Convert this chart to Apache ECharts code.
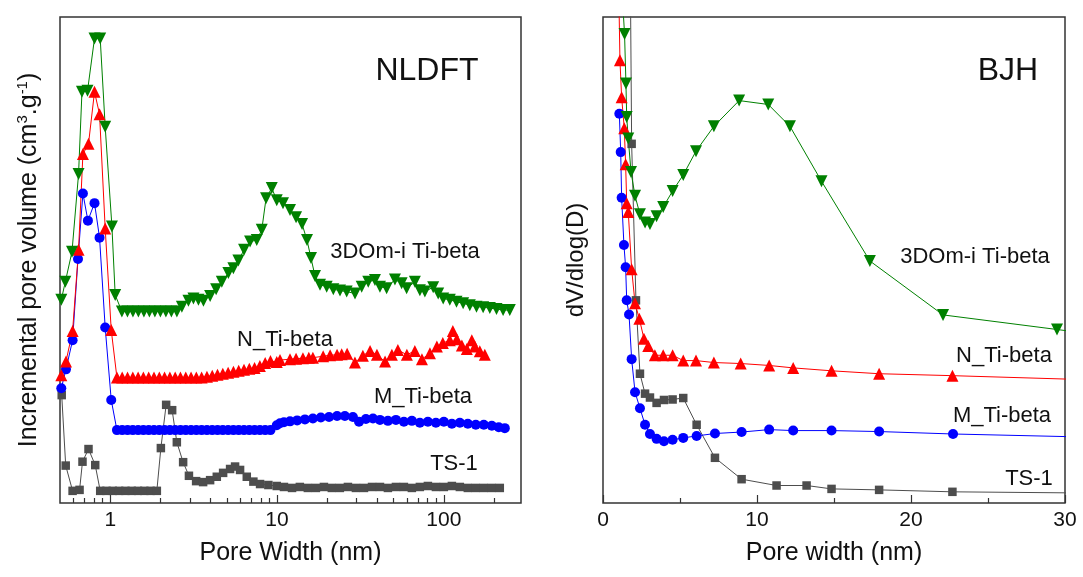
<!DOCTYPE html>
<html>
<head>
<meta charset="utf-8">
<title>Pore size distribution</title>
<script src="https://cdn.jsdelivr.net/npm/echarts@6.0.0/dist/echarts.min.js"></script>
<style>
  html, body { margin: 0; padding: 0; background: #fff; }
  #chart { width: 1083px; height: 577px; }
</style>
</head>
<body>
<div id="chart"></div>
<script>
const FONT = '"Liberation Sans", Arial, sans-serif';
const GREEN = '#008000', RED = '#ff0000', BLUE = '#0000ff', GREY = '#4d4d4d';
const AXIS = '#333';

// ---- left panel (NLDFT), pore width in nm, volume in arbitrary units
const dftMajorTicks = [1, 10, 100];
const dftMinorTicks = [0.6, 0.7, 0.8, 0.9, 2, 3, 4, 5, 6, 7, 8, 9, 20, 30, 40, 50, 60, 70, 80, 90, 200];

const dftTs1X = [0.512, 0.541, 0.595, 0.655, 0.682, 0.741, 0.813, 0.871, 0.950, 1.036, 1.131, 1.233, 1.345, 1.467, 1.600, 1.745, 1.903,
  2.012, 2.164, 2.351, 2.508, 2.736, 2.964, 3.273, 3.605, 3.970, 4.354, 4.751, 5.231, 5.604, 6.004, 6.586, 7.214, 7.912, 8.870, 9.96,
  11.0, 12.3, 13.7, 15.3, 17.1, 19.1, 21.3, 23.8, 26.6, 29.7, 33.2, 37.1, 41.4, 46.2, 51.6, 57.6, 64.3, 71.8, 80.2, 89.6, 100,
  111.7, 124.7, 139.2, 155.4, 173.6, 193.8, 216.4];
const dftTs1Y = [22.2, 7.7, 2.5, 2.7, 8.5, 11.1, 7.8, 2.5, 2.5, 2.5, 2.5, 2.5, 2.5, 2.5, 2.5, 2.5, 2.5,
  11.3, 20.2, 19.1, 12.5, 8.4, 5.6, 4.5, 4.3, 4.7, 5.4, 6.2, 7.0, 7.5, 6.8, 5.4, 4.4, 3.9, 3.7, 3.5,
  3.3, 3.1, 3.3, 3.1, 3.1, 3.3, 3.1, 3.1, 3.3, 3.1, 3.1, 3.3, 3.3, 3.1, 3.3, 3.3, 3.1, 3.3, 3.5, 3.3, 3.3,
  3.5, 3.3, 3.1, 3.1, 3.1, 3.1, 3.1];

const dftMX = [0.509, 0.543, 0.595, 0.641, 0.686, 0.735, 0.805, 0.863, 0.933, 1.014,
  1.097, 1.180, 1.270, 1.366, 1.470, 1.581, 1.701, 1.830, 1.969, 2.118, 2.279, 2.451, 2.637, 2.837, 3.052,
  3.283, 3.532, 3.800, 4.088, 4.398, 4.731, 5.090, 5.476, 5.891, 6.338, 6.818, 7.335, 7.891, 8.489, 9.133,
  9.96, 10.42, 11.0, 11.96, 13.2, 14.7, 16.4, 18.3, 20.5, 22.9, 25.5, 28.5, 31.0, 34.1, 37.6, 41.4, 46.2,
  51.6, 57.6, 64.3, 71.8, 80.2, 89.6, 100, 111.7, 124.7, 139.2, 155.4, 173.6, 193.8, 213.4, 231.9];
const dftMY = [23.6, 27.5, 33.5, 50.2, 63.7, 58.1, 61.7, 54.6, 36.1, 21.2,
  15.0, 15.0, 15.0, 15.0, 15.0, 15.0, 15.0, 15.0, 15.0, 15.0, 15.0, 15.0, 15.0, 15.0, 15.0,
  15.0, 15.0, 15.0, 15.0, 15.0, 15.0, 15.0, 15.0, 15.0, 15.0, 15.0, 15.0, 15.0, 15.0, 15.0,
  16.0, 16.4, 16.6, 16.8, 17.0, 17.2, 17.4, 17.6, 17.7, 17.9, 17.9, 17.7, 16.7, 17.3, 17.4, 17.1, 16.9,
  17.1, 16.7, 16.9, 16.5, 16.7, 16.5, 16.7, 16.3, 16.5, 16.3, 16.1, 16.1, 15.9, 15.6, 15.4];

const dftNX = [0.509, 0.543, 0.595, 0.646, 0.686, 0.741, 0.805, 0.863, 0.933, 1.014,
  1.097, 1.180, 1.270, 1.366, 1.470, 1.581, 1.701, 1.830, 1.969, 2.118, 2.279, 2.451, 2.637, 2.837, 3.052,
  3.283, 3.532, 3.800, 4.088, 4.398, 4.731, 5.090, 5.476, 5.891, 6.338, 6.818, 7.335, 7.891, 8.489, 9.133,
  9.96, 10.42, 11.96, 13.0, 14.3, 15.5, 16.4, 18.9, 20.8, 22.9, 24.4, 26.3, 29.3, 32.7, 36.1, 39.7, 44.4, 48.8, 53.0,
  60.0, 67.0, 73.9, 82.5, 90.8, 98.6, 108.6, 113.2, 119.6, 128.2, 137.3, 147.1, 153.3, 164.3, 176.0];
const dftNY = [26.3, 29.1, 35.4, 52.1, 71.8, 73.9, 84.6, 80.0, 56.5, 35.6,
  25.8, 25.8, 25.8, 25.8, 25.8, 25.8, 25.8, 25.8, 25.8, 25.8, 25.8, 25.8, 25.8, 25.8, 25.8,
  25.8, 25.8, 26.0, 26.2, 26.4, 26.6, 26.8, 27.0, 27.2, 27.4, 27.6, 27.8, 28.2, 28.8, 29.2,
  29.0, 29.4, 29.6, 29.7, 29.8, 29.9, 29.9, 30.2, 30.4, 30.5, 30.6, 30.7, 28.9, 30.3, 31.3, 30.5, 29.1, 30.5, 31.5,
  30.5, 31.3, 29.6, 30.8, 32.2, 32.9, 33.5, 35.4, 33.7, 32.4, 31.7, 33.5, 32.2, 31.2, 30.5];

const dft3dX = [0.509, 0.538, 0.590, 0.646, 0.677, 0.731, 0.805, 0.871, 0.933, 1.024, 1.071,
  1.175, 1.268, 1.368, 1.475, 1.592, 1.717, 1.852, 1.998, 2.156, 2.326, 2.509,
  2.688, 2.944, 3.154, 3.379, 3.620, 3.970, 4.313, 4.665, 5.110, 5.475, 5.866, 6.345, 6.892, 7.559, 8.099, 8.594, 9.296, 9.96,
  10.86, 11.96, 13.0, 14.12, 15.12, 15.98, 16.89, 18.09,
  19.84, 21.74, 23.84, 26.15, 29.32, 32.16, 35.22, 38.63, 41.39, 45.39, 50.89, 55.82, 59.79, 67.03, 71.84, 76.95,
  86.29, 92.46, 99.04, 108.6, 119.1, 130.5, 143.1, 156.9, 171.9, 188.5, 206.8, 226.5, 248.4];
const dft3dY = [41.8, 45.5, 51.7, 67.7, 84.6, 84.8, 95.6, 95.6, 77.4, 56.9, 42.8,
  39.4, 39.4, 39.4, 39.4, 39.4, 39.4, 39.4, 39.4, 39.4, 39.4, 39.4,
  40.4, 41.6, 42.1, 41.8, 41.6, 42.6, 44.0, 45.5, 47.3, 48.3, 49.9, 52.1, 53.8, 54.1, 56.2, 62.7, 64.8, 62.3,
  61.7, 60.3, 58.8, 57.4, 54.1, 50.4, 46.7, 44.9,
  44.5, 44.0, 43.7, 43.5, 43.1, 44.5, 45.5, 45.9, 44.5, 44.2, 46.0, 45.2, 44.2, 45.5, 43.8, 43.5,
  44.4, 43.1, 42.1, 41.8, 41.4, 41.1, 40.7, 40.4, 40.3, 40.1, 39.9, 39.7, 39.7];

// ---- right panel (BJH), pore width in nm, dV/dlog(D) in arbitrary units
const bjhTs1X = [1.70, 1.86, 2.14, 2.40, 2.73, 3.05, 3.48, 3.96, 4.52, 5.21, 6.08, 7.27, 9.00, 11.27, 13.22, 14.84, 17.93, 22.69, 38.5];
const bjhTs1Y = [140, 73.9, 41.7, 26.6, 22.5, 21.7, 20.6, 21.2, 21.3, 21.6, 16.1, 9.3, 4.9, 3.6, 3.6, 2.9, 2.7, 2.3, 1.85];

const bjhMX = [1.06, 1.15, 1.21, 1.36, 1.47, 1.54, 1.69, 1.86, 2.08, 2.40, 2.73, 3.05, 3.48, 3.96, 4.52, 5.21, 6.08, 7.27, 9.00, 10.79, 12.35, 14.84, 17.93, 22.73, 38.5];
const bjhMY = [80.1, 72.2, 62.8, 53.1, 48.5, 41.7, 38.8, 29.6, 22.8, 19.5, 16.1, 14.2, 13.2, 12.7, 13.0, 13.4, 13.8, 14.3, 14.6, 15.1, 14.9, 14.9, 14.7, 14.2, 13.05];

const bjhNX = [1.00, 1.10, 1.21, 1.38, 1.47, 1.54, 1.64, 1.86, 2.08, 2.36, 2.66, 2.94, 3.37, 3.91, 4.52, 5.21, 6.04, 7.20, 8.94, 10.79, 12.35, 14.84, 17.93, 22.69, 38.5];
const bjhNY = [110, 91.1, 83.5, 77.1, 69.7, 61.7, 59.9, 48.1, 41.1, 37.9, 33.8, 32.3, 30.4, 30.4, 30.4, 29.3, 29.3, 28.9, 28.7, 28.3, 27.8, 27.2, 26.6, 26.2, 24.7];

const bjh3dX = [1.05, 1.40, 1.49, 1.54, 1.64, 1.82, 2.08, 2.40, 2.73, 3.05, 3.48, 3.91, 4.52, 5.21, 6.04, 7.20, 8.84, 10.73, 12.14, 14.19, 17.33, 22.08, 29.48, 38.5];
const bjh3dY = [115, 96.5, 86.3, 79.4, 75.0, 68.1, 63.2, 59.4, 57.7, 57.4, 59.0, 60.9, 64.2, 67.5, 72.4, 77.5, 82.8, 82.0, 77.5, 66.2, 49.8, 38.7, 35.7, 32.0];

const seriesNames = ['TS-1', 'M_Ti-beta', 'N_Ti-beta', '3DOm-i Ti-beta'];

function pairs(xs, ys) {
  return xs.map((x, i) => [x, ys[i]]);
}

function line(name, xs, ys, color, symbol, size, rotate, xi, yi) {
  return {
    name: name,
    type: 'line',
    xAxisIndex: xi,
    yAxisIndex: yi,
    data: pairs(xs, ys),
    symbol: symbol,
    symbolSize: size,
    symbolRotate: rotate,
    showSymbol: true,
    clip: true,
    itemStyle: { color: color },
    lineStyle: { color: color, width: 1 },
    emphasis: { disabled: true },
    z: 2
  };
}

function label(text, x, y, size) {
  return {
    type: 'text',
    x: x,
    y: y,
    style: {
      text: text,
      font: size + 'px ' + FONT,
      fill: '#111',
      textAlign: 'center',
      textVerticalAlign: 'middle',
      align: 'center',
      verticalAlign: 'middle'
    }
  };
}

const tickStyle = { color: AXIS, width: 1.2 };

const chart = echarts.init(document.getElementById('chart'), null, { renderer: 'canvas' });

chart.setOption({
  animation: false,
  backgroundColor: '#fff',
  textStyle: { fontFamily: FONT },
  grid: [
    { left: 60, top: 17, width: 461, height: 486, show: true, borderColor: AXIS, borderWidth: 1.5, backgroundColor: 'transparent' },
    { left: 603, top: 17, width: 462, height: 486, show: true, borderColor: AXIS, borderWidth: 1.5, backgroundColor: 'transparent' }
  ],
  xAxis: [
    {
      type: 'log', logBase: 10, gridIndex: 0, min: 0.5, max: 290, position: 'bottom',
      name: 'Pore Width (nm)', nameLocation: 'middle', nameGap: 38,
      nameTextStyle: { fontSize: 25, color: '#111', fontFamily: FONT },
      axisLine: { show: false },
      axisTick: { show: true, inside: true, length: 8, lineStyle: tickStyle, customValues: dftMajorTicks },
      axisLabel: { show: true, fontSize: 21, color: '#111', margin: 7, fontFamily: FONT, customValues: dftMajorTicks },
      splitLine: { show: false }
    },
    {
      type: 'log', logBase: 10, gridIndex: 0, min: 0.5, max: 290, position: 'bottom',
      axisLine: { show: false },
      axisTick: { show: true, inside: true, length: 5, lineStyle: tickStyle, customValues: dftMinorTicks },
      axisLabel: { show: false },
      splitLine: { show: false }
    },
    {
      type: 'value', gridIndex: 1, min: 0, max: 30, interval: 10, position: 'bottom',
      name: 'Pore width (nm)', nameLocation: 'middle', nameGap: 38,
      nameTextStyle: { fontSize: 25, color: '#111', fontFamily: FONT },
      axisLine: { show: false },
      axisTick: { show: true, inside: true, length: 8, lineStyle: tickStyle },
      minorTick: { show: true, splitNumber: 2, length: 5, lineStyle: tickStyle },
      axisLabel: { show: true, fontSize: 21, color: '#111', margin: 7, fontFamily: FONT },
      splitLine: { show: false },
      minorSplitLine: { show: false }
    }
  ],
  yAxis: [
    {
      type: 'value', gridIndex: 0, min: 0, max: 100,
      name: '{a|Incremental pore volume (cm}{s|3}{a|.g}{s|-1}{a|)}',
      nameLocation: 'middle', nameGap: 17,
      nameTextStyle: {
        rich: {
          a: { fontSize: 25, color: '#111', fontFamily: FONT, lineHeight: 28 },
          s: { fontSize: 15, color: '#111', fontFamily: FONT, verticalAlign: 'top', lineHeight: 15 }
        }
      },
      axisLine: { show: false }, axisTick: { show: false }, axisLabel: { show: false }, splitLine: { show: false }
    },
    {
      type: 'value', gridIndex: 1, min: 0, max: 100,
      name: 'dV/dlog(D)', nameLocation: 'middle', nameGap: 15,
      nameTextStyle: { fontSize: 24, color: '#111', fontFamily: FONT },
      axisLine: { show: false }, axisTick: { show: false }, axisLabel: { show: false }, splitLine: { show: false }
    }
  ],
  series: [
    line(seriesNames[0], dftTs1X, dftTs1Y, GREY, 'rect', 8.5, 0, 0, 0),
    line(seriesNames[1], dftMX, dftMY, BLUE, 'circle', 10, 0, 0, 0),
    line(seriesNames[2], dftNX, dftNY, RED, 'triangle', 12, 0, 0, 0),
    line(seriesNames[3], dft3dX, dft3dY, GREEN, 'triangle', 12, 180, 0, 0),
    line(seriesNames[0], bjhTs1X, bjhTs1Y, GREY, 'rect', 8.5, 0, 2, 1),
    line(seriesNames[1], bjhMX, bjhMY, BLUE, 'circle', 10, 0, 2, 1),
    line(seriesNames[2], bjhNX, bjhNY, RED, 'triangle', 12, 0, 2, 1),
    line(seriesNames[3], bjh3dX, bjh3dY, GREEN, 'triangle', 12, 180, 2, 1)
  ],
  graphic: [
    label('NLDFT', 427, 71, 32),
    label(seriesNames[3], 405, 252, 22),
    label(seriesNames[2], 285, 340, 22),
    label(seriesNames[1], 423, 397, 22),
    label(seriesNames[0], 454, 464, 22),
    label('BJH', 1008, 71, 32),
    label(seriesNames[3], 975, 257, 22),
    label(seriesNames[2], 1004, 356, 22),
    label(seriesNames[1], 1002, 416, 22),
    label(seriesNames[0], 1029, 479, 22)
  ]
});
</script>
</body>
</html>
